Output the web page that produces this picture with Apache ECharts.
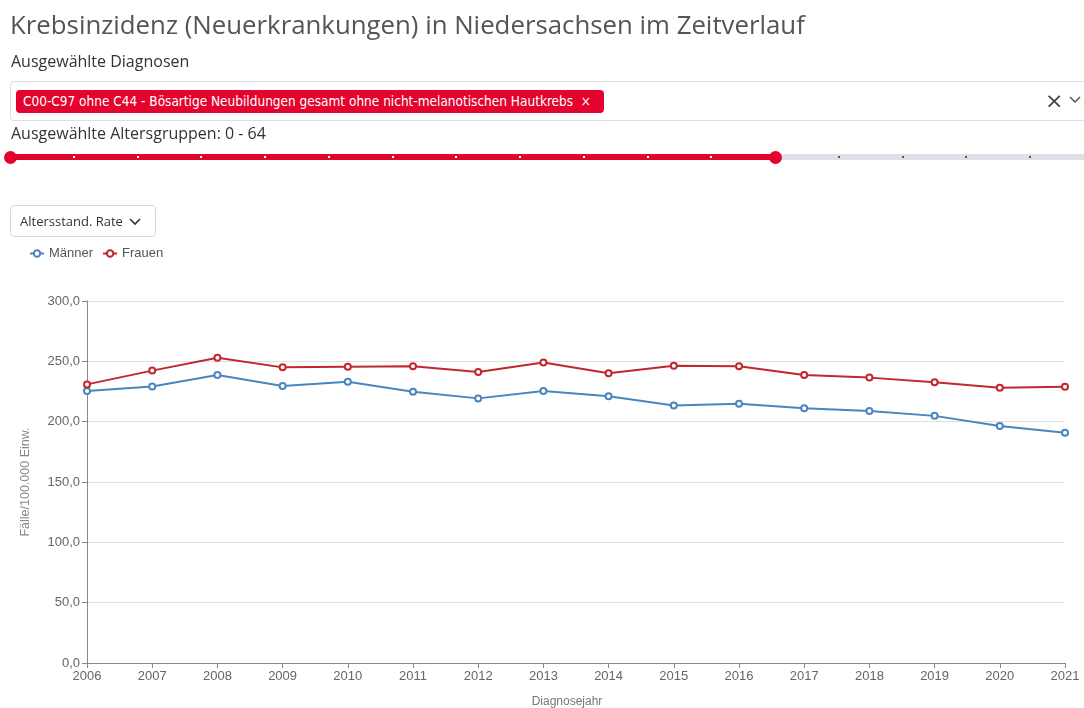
<!DOCTYPE html>
<html><head><meta charset="utf-8">
<script src="https://cdn.jsdelivr.net/npm/echarts@6/dist/echarts.min.js"></script>
<style>
html,body{margin:0;padding:0;background:#fff;width:1084px;height:708px;overflow:hidden;font-family:"Open Sans",sans-serif;}
.abs{position:absolute;}
#title{left:10px;top:6px;font-size:25.8px;color:#555;white-space:nowrap;}
#lbl1{left:11px;top:50px;font-size:16px;color:#333;white-space:nowrap;}
#sel{left:10px;top:81px;width:1090px;height:40px;border:1px solid #dcdfe3;border-radius:4px;box-sizing:border-box;}
#chip{left:16px;top:90px;width:588px;height:23px;background:#e4032e;border-radius:4px;color:#fff;font-family:"DejaVu Sans Condensed","DejaVu Sans",sans-serif;font-stretch:condensed;font-size:13.5px;line-height:23px;box-sizing:border-box;padding-left:7px;white-space:nowrap;}
#clr{left:1045px;top:88px;font-size:22px;color:#444;font-family:"DejaVu Sans",sans-serif;}
#lbl2{left:11px;top:122px;font-size:16px;color:#333;white-space:nowrap;}
#track{left:10px;top:154px;width:1080px;height:6px;background:#dee2e6;}
#trackRed{left:10px;top:154px;width:765px;height:6px;background:#e4032e;}
.dot{position:absolute;top:156px;width:2px;height:2px;}
.handle{position:absolute;top:151px;width:13px;height:13px;border-radius:50%;background:#e4032e;}
#dd{left:10px;top:205px;width:146px;height:32px;border:1px solid #d6d9dc;border-radius:4px;box-sizing:border-box;font-size:13px;color:#333;line-height:30px;padding-left:9px;white-space:nowrap;}
#chart{left:0;top:0;width:1084px;height:708px;}
</style></head>
<body>
<div id="chart" class="abs"></div>
<div id="title" class="abs">Krebsinzidenz (Neuerkrankungen) in Niedersachsen im Zeitverlauf</div>
<div id="lbl1" class="abs">Ausgewählte Diagnosen</div>
<div id="sel" class="abs"></div>
<div id="chip" class="abs">C00-C97 ohne C44 - Bösartige Neubildungen gesamt ohne nicht-melanotischen Hautkrebs&nbsp;&nbsp;×</div>
<div id="clr" class="abs">×</div>
<svg class="abs" style="left:1069px;top:95px" width="12" height="10"><polyline points="1,2 6,7 11,2" fill="none" stroke="#555" stroke-width="1.5"/></svg>
<div id="lbl2" class="abs">Ausgewählte Altersgruppen: 0 - 64</div>
<div id="track" class="abs"></div>
<div id="trackRed" class="abs"></div>
<div id="dots"></div>
<div id="dd" class="abs">Altersstand. Rate <svg width="12" height="9" style="margin-left:3px"><polyline points="1,2 6,7 11,2" fill="none" stroke="#333" stroke-width="1.6"/></svg></div>
<script>
const years = ["2006","2007","2008","2009","2010","2011","2012","2013","2014","2015","2016","2017","2018","2019","2020","2021"];
const maenner = [225.4, 229.2, 238.7, 229.6, 233.0, 224.7, 219.3, 225.4, 221.1, 213.4, 214.8, 211.1, 208.9, 204.8, 196.4, 190.8];
const frauen  = [230.9, 242.3, 253.0, 245.0, 245.5, 245.9, 241.2, 249.1, 240.1, 246.4, 245.9, 238.7, 236.5, 232.6, 228.2, 229.0];
const seriesNames = ["Männer", "Frauen"];
const yTicks = [0, 50, 100, 150, 200, 250, 300];

// slider dots (UI decoration)
const dotsEl = document.getElementById('dots');
for (let k = 0; k <= 17; k++) {
  const x = 10 + 63.75 * k;
  if (k === 0 || k === 12) {
    const h = document.createElement('div'); h.className = 'handle'; h.style.left = (x - 6.5) + 'px'; dotsEl.appendChild(h);
  } else {
    const d = document.createElement('div'); d.className = 'dot'; d.style.left = (x - 1) + 'px';
    d.style.background = k < 12 ? '#fff' : '#555'; dotsEl.appendChild(d);
  }
}

const chart = echarts.init(document.getElementById('chart'), null, {renderer: 'canvas'});
const fmt = v => v.toFixed(1).replace('.', ',');
chart.setOption({
  animation: false,
  textStyle: {fontFamily: 'Liberation Sans, Arial, sans-serif'},
  color: ['#4a86be', '#c1272d'],
  legend: {
    left: 24, top: 242, itemWidth: 14, itemHeight: 8, itemGap: 9,
    textStyle: {fontSize: 13, color: '#555', fontFamily: 'Liberation Sans, Arial, sans-serif'},
    data: seriesNames
  },
  grid: {left: 87, right: 19, top: 301, bottom: 45, containLabel: false, outerBoundsMode: 'none'},
  xAxis: {
    type: 'category', data: years, boundaryGap: false,
    name: 'Diagnosejahr', nameLocation: 'middle', nameGap: 33,
    nameTextStyle: {fontSize: 12, color: '#777', padding: [0, 18, 0, 0]},
    axisLine: {lineStyle: {color: '#888', width: 1}},
    axisTick: {alignWithLabel: true, length: 5, lineStyle: {color: '#888'}},
    axisLabel: {fontSize: 13, color: '#666', margin: 7, interval: 0}
  },
  yAxis: {
    type: 'value', min: yTicks[0], max: yTicks[yTicks.length - 1], interval: 50,
    name: 'Fälle/100.000 Einw.', nameLocation: 'middle', nameGap: 55, nameRotate: 90,
    nameTextStyle: {fontSize: 12.5, color: '#888'},
    axisLine: {show: true, lineStyle: {color: '#888', width: 1}},
    axisTick: {show: true, length: 5, lineStyle: {color: '#888'}},
    axisLabel: {fontSize: 13, color: '#666', margin: 7, formatter: fmt},
    splitLine: {lineStyle: {color: '#e0e0e0', width: 1}}
  },
  series: [
    {name: seriesNames[0], type: 'line', data: maenner, symbol: 'emptyCircle', symbolSize: 6,
     lineStyle: {width: 2}, itemStyle: {borderWidth: 2}},
    {name: seriesNames[1], type: 'line', data: frauen, symbol: 'emptyCircle', symbolSize: 6,
     lineStyle: {width: 2}, itemStyle: {borderWidth: 2}}
  ]
});
</script>
</body></html>
